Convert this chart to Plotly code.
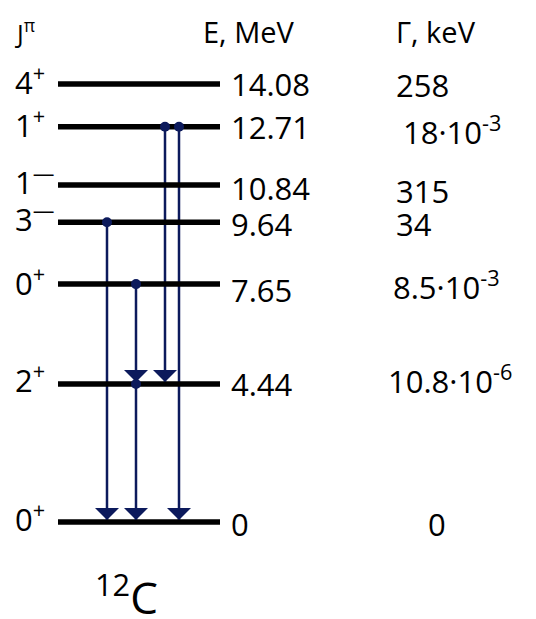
import plotly.graph_objects as go

# ---- data ----
spins = ["4<sup>+</sup>", "1<sup>+</sup>", "1<sup>—</sup>", "3<sup>—</sup>", "0<sup>+</sup>", "2<sup>+</sup>", "0<sup>+</sup>"]
energies = [14.08, 12.71, 10.84, 9.64, 7.65, 4.44, 0.0]
energy_labels = ["14.08", "12.71", "10.84", "9.64", "7.65", "4.44", "0"]
widths_labels = ["258", "18·10<sup>-3</sup>", "315", "34", "8.5·10<sup>-3</sup>", "10.8·10<sup>-6</sup>", "0"]
# transitions: (from energy, to energy)
trans_from = [9.64, 7.65, 4.44, 12.71, 12.71]
trans_to = [0.0, 4.44, 0.0, 4.44, 0.0]
nucleus = "<sup>12</sup>C"

# ---- style / layout (pixel positions on the x axis) ----
W, H = 536, 619
OFF = 8  # page body margin
PX_PER_MEV = 31.1
Y0_PX = 522
level_x0, level_x1 = 58, 220
trans_x = [107, 136, 136, 165, 179]
spin_x, e_x = 13, 229
gamma_x = [394, 401, 394, 394, 391, 386, 426]
spin_dy = [4, 3, 4, 5, 3, 5, 5]
e_dy = [0, 0, -3, -2, -6, 0, -2]
g_dy = [-1, -4, -6, -2, -1, 4, -2]
ARROW = "#0c1a5c"
FONT = "Open Sans"
FS = 31

ytop = (Y0_PX - OFF) / PX_PER_MEV
ybot = (Y0_PX - H) / PX_PER_MEV


def py(p):
    return 1 - (p - OFF) / (H - OFF)


fig = go.Figure()

# transition lines (under the levels)
lx, ly = [], []
for x, a, b in zip(trans_x, trans_from, trans_to):
    lx += [x, x, None]
    ly += [a, b, None]
fig.add_trace(go.Scatter(x=lx, y=ly, mode="lines", line=dict(color=ARROW, width=2.5),
                         hoverinfo="skip", showlegend=False))

# levels
vx, vy = [], []
for e in energies:
    vx += [level_x0, level_x1, None]
    vy += [e, e, None]
fig.add_trace(go.Scatter(x=vx, y=vy, mode="lines", line=dict(color="black", width=5.5),
                         hoverinfo="skip", showlegend=False))

# start dots
fig.add_trace(go.Scatter(x=trans_x, y=trans_from, mode="markers",
                         marker=dict(color=ARROW, size=10, symbol="circle"),
                         hoverinfo="skip", showlegend=False))

ann = []
# arrowheads
for x, b in zip(trans_x, trans_to):
    ann.append(dict(x=x, y=b, xref="x", yref="y", ax=0, ay=-18, text="",
                    showarrow=True, arrowhead=1, arrowsize=2.0, arrowwidth=2,
                    arrowcolor=ARROW, standoff=2))

tf = dict(family=FONT, size=FS, color="black")
for i, e in enumerate(energies):
    ann.append(dict(x=spin_x, y=e, xref="x", yref="y", text=spins[i], showarrow=False,
                    xanchor="left", yanchor="middle", yshift=spin_dy[i], font=tf))
    ann.append(dict(x=e_x, y=e, xref="x", yref="y", text=energy_labels[i], showarrow=False,
                    xanchor="left", yanchor="middle", yshift=e_dy[i], font=tf))
    ann.append(dict(x=gamma_x[i], y=e, xref="x", yref="y", text=widths_labels[i], showarrow=False,
                    xanchor="left", yanchor="middle", yshift=g_dy[i], font=tf))

# headers
hy = py(31)
ann.append(dict(x=13, y=hy, xref="x", yref="paper", text="J<sup>π</sup>", showarrow=False,
                xanchor="left", yanchor="middle", font=dict(family=FONT, size=25, color="black")))
ann.append(dict(x=201, y=hy, xref="x", yref="paper", text="E, MeV", showarrow=False,
                xanchor="left", yanchor="middle", font=dict(family=FONT, size=29, color="black")))
ann.append(dict(x=394, y=hy, xref="x", yref="paper", text="Γ, keV", showarrow=False,
                xanchor="left", yanchor="middle", font=dict(family=FONT, size=29, color="black")))
ann.append(dict(x=93, y=py(595), xref="x", yref="paper", text=nucleus, showarrow=False,
                xanchor="left", yanchor="middle", font=dict(family=FONT, size=44, color="black")))

fig.update_layout(
    width=W - OFF, height=H - OFF, margin=dict(l=0, r=0, t=0, b=0),
    paper_bgcolor="white", plot_bgcolor="white",
    xaxis=dict(range=[OFF, W], visible=False, fixedrange=True),
    yaxis=dict(range=[ybot, ytop], visible=False, fixedrange=True),
    annotations=ann, showlegend=False,
)
fig.write_html("out.html")
